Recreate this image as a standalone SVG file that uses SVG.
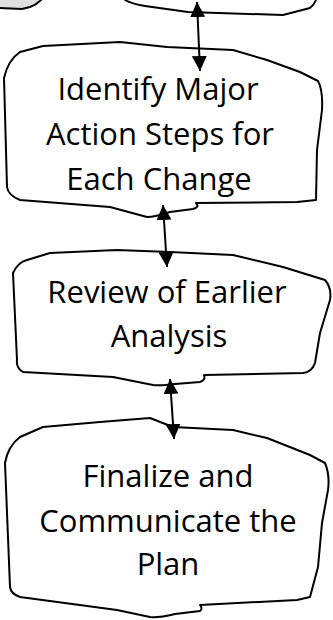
<svg xmlns="http://www.w3.org/2000/svg" width="333" height="620" viewBox="0 0 333 620">
<style>
.shape{fill:#fff;stroke:#000;stroke-width:2;stroke-linejoin:round}
.gray{fill:#e0e0e0;stroke:#000;stroke-width:2}
.lbl{font-family:"Open Sans","DejaVu Sans",sans-serif;font-size:31px;fill:#000;text-anchor:middle}
.conn{stroke:#000;stroke-width:2;fill:none;marker-start:url(#ah);marker-end:url(#ah)}
</style>
<defs>
<marker id="ah" viewBox="0 0 10 10" refX="10" refY="5" markerWidth="7.5" markerHeight="7.5" markerUnits="strokeWidth" orient="auto-start-reverse">
<path d="M0,0 L10,5 L0,10 z" fill="#000"/>
</marker>
</defs>
<g id="node-top-left">
<path class="gray" d="M-5,-5 L41,-5 L41,0 Q36,5 30,7 L22,9 L0,8 L-5,8 z"/>
</g>
<g id="node-top-right">
<path class="shape" d="M125,-5 L125,0 Q132,4 145,6 L188,12 L283,15 L310,8 Q314,5 316,0 L316,-5 z"/>
</g>
<g id="node-identify">
<path class="shape" d="M4,78 Q8,60 20,52 L43,46 L120,42 L167,47 L233,50 L267,60 L300,72 L318,81 Q323,90 322,110 L317,150 L316,200 L297,202 L196,203 Q200,207 193,209 L170,212 Q155,217 147,217 L110,207 L20,200 Q8,195 7,187 z"/>
<text class="lbl" x="158" y="100">Identify Major</text>
<text class="lbl" x="160" y="145">Action Steps for</text>
<text class="lbl" x="159" y="190">Each Change</text>
</g>
<g id="node-review">
<path class="shape" d="M13,273 Q18,262 27,260 L50,253 L117,250 L170,252 L233,255 L283,267 L325,280 Q332,288 330,300 L320,333 L315,363 Q312,372 303,373 L204,375 Q206,380 200,382 L175,384 Q160,386 153,385 L113,377 L23,372 Q16,368 17,360 z"/>
<text class="lbl" x="167" y="303">Review of Earlier</text>
<text class="lbl" x="169" y="347">Analysis</text>
</g>
<g id="node-finalize">
<path class="shape" d="M5,463 Q8,446 20,437 L43,427 L100,422 L150,418 L173,427 L233,430 L267,438 L310,455 L325,463 Q330,475 328,490 L322,523 L318,567 L310,597 L297,600 L200,605 Q203,609 200,611 L175,614 Q158,618 150,617 L117,610 L20,597 Q11,594 10,587 z"/>
<text class="lbl" x="168" y="487">Finalize and</text>
<text class="lbl" x="168" y="532">Communicate the</text>
<text class="lbl" x="168" y="575">Plan</text>
</g>
<g id="connectors">
<path class="conn" d="M197,2 L200,71"/>
<path class="conn" d="M163,205 L167,267"/>
<path class="conn" d="M170,379 L174,439"/>
</g>
</svg>
